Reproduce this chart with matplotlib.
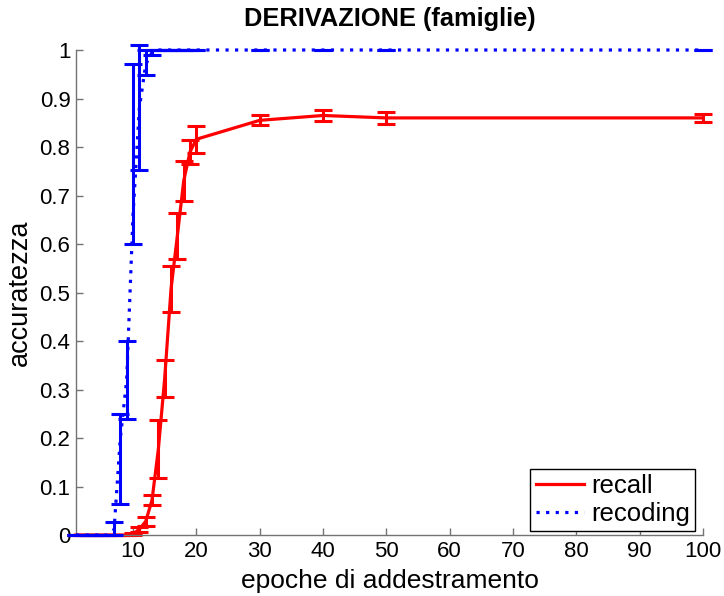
import matplotlib
matplotlib.use("Agg")
import matplotlib.pyplot as plt
import numpy as np

plt.rcParams['font.family'] = ['Liberation Sans', 'DejaVu Sans']

# epoche
epoche = [1, 2, 3, 4, 5, 6, 7, 8, 9, 10, 11, 12, 13, 14, 15, 16, 17, 18, 19, 20, 30, 40, 50, 100]

# recall (media, errore simmetrico)
recall = [0, 0, 0, 0, 0, 0, 0, 0, 0, 0.002, 0.012, 0.028, 0.072, 0.177, 0.323, 0.507, 0.617,
          0.73, 0.79, 0.816, 0.855, 0.865, 0.86, 0.86]
recall_err = [0, 0, 0, 0, 0, 0, 0, 0, 0, 0.002, 0.005, 0.01, 0.01, 0.06, 0.038, 0.047, 0.047,
              0.042, 0.024, 0.028, 0.01, 0.012, 0.012, 0.008]

# recoding (media, limiti inferiore/superiore delle barre)
recoding = [0, 0, 0, 0, 0, 0, 0.01, 0.2, 0.32, 0.66, 0.88, 0.97, 0.995, 1, 1, 1, 1,
            1, 1, 1, 1, 1, 1, 1]
recoding_lo = [0, 0, 0, 0, 0, 0, 0.0, 0.065, 0.24, 0.60, 0.753, 0.948, 0.99, 1, 1, 1, 1,
               1, 1, 1, 1, 1, 1, 1]
recoding_hi = [0, 0, 0, 0, 0, 0, 0.027, 0.25, 0.40, 0.971, 1.01, 1.0, 1.0, 1, 1, 1, 1,
               1, 1, 1, 1, 1, 1, 1]

x = np.array(epoche)
rec = np.array(recoding)
yerr_rec = [rec - np.array(recoding_lo), np.array(recoding_hi) - rec]

fig = plt.figure(figsize=(7.24, 5.96), dpi=100)
ax = fig.add_axes([0.105, 0.1023, 0.866, 0.8138])

# barre di errore
ax.errorbar(x, recall, yerr=recall_err, fmt='none', ecolor='red', elinewidth=2.2,
            capsize=6.5, capthick=2.2, clip_on=False, zorder=2)
ax.errorbar(x, rec, yerr=yerr_rec, fmt='none', ecolor='blue', elinewidth=2.2,
            capsize=6.5, capthick=2.2, clip_on=False, zorder=3)

# linee
ax.plot(x, recall, color='red', lw=2.3, label='recall', zorder=2, clip_on=False)
ax.plot(x, rec, color='blue', lw=2.3, linestyle=(0, (1, 2)), label='recoding',
        zorder=3, clip_on=False)

ax.set_xlim(1, 100)
ax.set_ylim(0, 1)
ax.set_xticks(range(10, 101, 10))
ax.set_yticks(np.arange(0, 1.01, 0.1))
ax.set_yticklabels(['0', '0.1', '0.2', '0.3', '0.4', '0.5', '0.6', '0.7', '0.8', '0.9', '1'])

for s in ['top', 'right']:
    ax.spines[s].set_visible(False)
for s in ['left', 'bottom']:
    ax.spines[s].set_color('0.45')
    ax.spines[s].set_linewidth(1.0)
ax.tick_params(direction='in', length=5, width=1, colors='0.45', labelcolor='black',
               labelsize=16, pad=4)

ax.set_title('DERIVAZIONE (famiglie)', fontsize=18.3, fontweight='bold', pad=17)
ax.set_xlabel('epoche di addestramento', fontsize=19, labelpad=5)
ax.set_ylabel('accuratezza', fontsize=19.5, labelpad=5)

leg = ax.legend(loc='lower right', bbox_to_anchor=(0.987, 0.008), fontsize=18.5,
                fancybox=False, edgecolor='black', framealpha=1, handlelength=1.9,
                handletextpad=0.25, borderpad=0.2, borderaxespad=0, labelspacing=0.15)
leg.get_frame().set_linewidth(1.0)

fig.savefig('out.png', dpi=100)
